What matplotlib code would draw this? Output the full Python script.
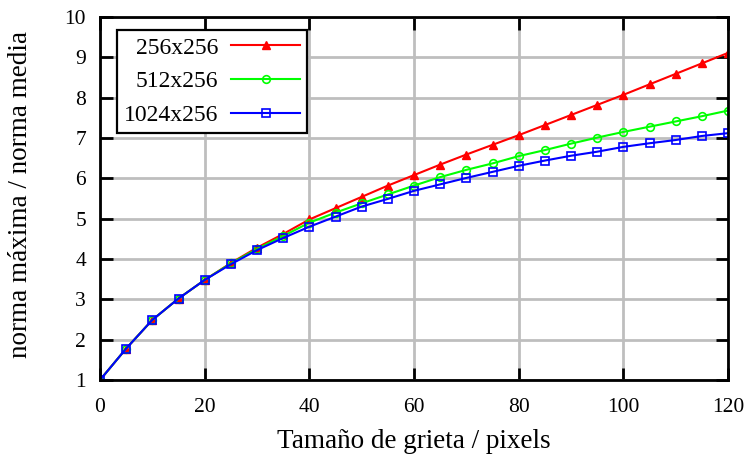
import matplotlib
matplotlib.use("Agg")
import matplotlib.pyplot as plt

# Crack size (pixels) and max/mean norm ratio for each grid resolution
crack_size = [0, 5, 10, 15, 20, 25, 30, 35, 40, 45, 50, 55, 60,
              65, 70, 75, 80, 85, 90, 95, 100, 105, 110, 115, 120]

ratio_256 = [1.00, 1.78, 2.49, 3.02, 3.48, 3.90, 4.28, 4.62, 4.98, 5.26, 5.54, 5.82, 6.08,
             6.34, 6.59, 6.83, 7.07, 7.32, 7.57, 7.82, 8.07, 8.33, 8.59, 8.85, 9.11]
ratio_512 = [1.00, 1.78, 2.49, 3.02, 3.48, 3.89, 4.25, 4.57, 4.90, 5.15, 5.38, 5.60, 5.82,
             6.03, 6.21, 6.37, 6.55, 6.70, 6.86, 7.01, 7.15, 7.28, 7.41, 7.54, 7.68]
ratio_1024 = [1.00, 1.78, 2.49, 3.02, 3.48, 3.87, 4.22, 4.52, 4.80, 5.05, 5.30, 5.49, 5.69,
              5.85, 6.01, 6.16, 6.31, 6.44, 6.56, 6.66, 6.78, 6.87, 6.95, 7.05, 7.12]

labels = ["256x256", "512x256", "1024x256"]
x_ticks = [0, 20, 40, 60, 80, 100, 120]
y_ticks = [1, 2, 3, 4, 5, 6, 7, 8, 9, 10]

plt.rcParams["font.family"] = ["Liberation Serif", "DejaVu Serif"]

fig = plt.figure(figsize=(7.5, 4.55), dpi=100)
ax = fig.add_axes([100 / 750, 75 / 455, 628 / 750, 363 / 455])

ax.plot(crack_size, ratio_256, color="#ff0000", lw=1.5, marker="^",
        ms=6, mfc="#ff0000", mec="#ff0000", mew=1.0, label=labels[0], zorder=3)
ax.plot(crack_size, ratio_512, color="#00ff00", lw=1.5, marker="o",
        ms=5.5, mfc="none", mec="#00ff00", mew=1.2, label=labels[1], zorder=4)
ax.plot(crack_size, ratio_1024, color="#0000ff", lw=1.5, marker="s",
        ms=5.5, mfc="none", mec="#0000ff", mew=1.2, label=labels[2], zorder=5)

ax.set_xlim(0, 120)
ax.set_ylim(1, 10)
ax.set_xticks(x_ticks)
ax.set_yticks(y_ticks)

ax.grid(True, color="#bebebe", lw=2.0, zorder=0)
ax.set_axisbelow(True)

for sp in ax.spines.values():
    sp.set_linewidth(2.0)
    sp.set_color("black")
    sp.set_zorder(6)

ax.tick_params(axis="both", direction="in", length=9, width=2.0, top=True, right=True,
               labelsize=15.5, colors="black")
ax.tick_params(axis="y", pad=10)
ax.tick_params(axis="x", pad=13)

ax.set_xlabel("Tamaño de grieta / pixels", fontsize=19.5)
ax.xaxis.label.set_va("baseline")
ax.xaxis.set_label_coords(0.5, -68 / 363)

ax.set_ylabel("norma máxima / norma media", fontsize=19.5)
ax.yaxis.label.set_va("baseline")
ax.yaxis.set_label_coords(-73 / 628, 185 / 363)

leg = ax.legend(loc="upper left", bbox_to_anchor=(17 / 628, 1 - 13 / 363),
                borderaxespad=0, markerfirst=False, fancybox=False,
                edgecolor="black", framealpha=1, handlelength=2.9,
                handletextpad=0.55, labelspacing=0.52, borderpad=0.3,
                fontsize=17)
leg.get_frame().set_linewidth(1.6)

fig.savefig("out.png", dpi=100)
